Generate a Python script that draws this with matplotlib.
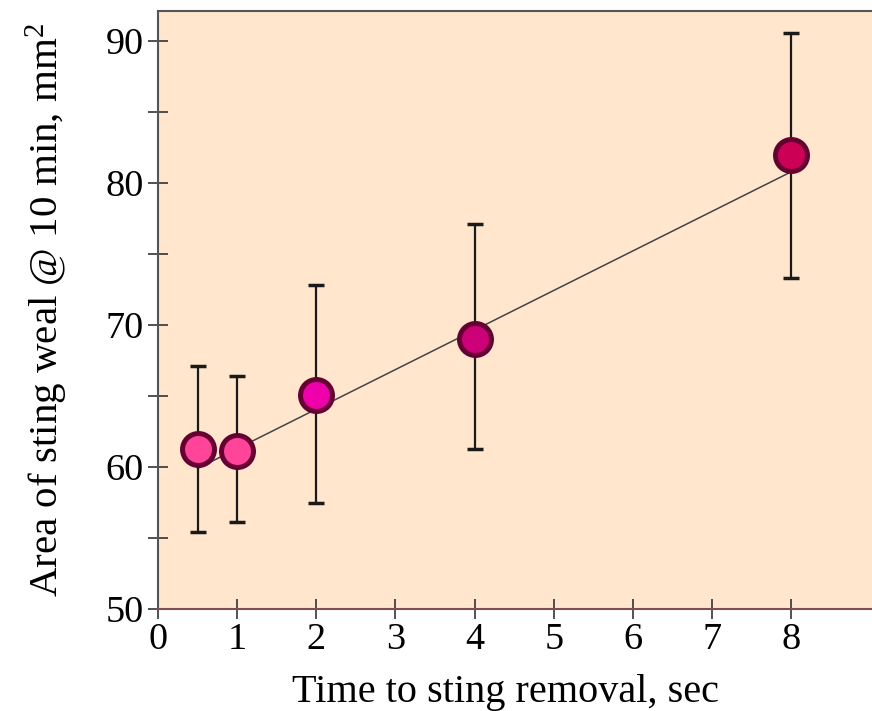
import matplotlib
matplotlib.use('Agg')
import matplotlib.pyplot as plt
from matplotlib.ticker import MultipleLocator

plt.rcParams['font.family'] = ['Liberation Serif', 'DejaVu Serif']
plt.rcParams['mathtext.fontset'] = 'custom'
plt.rcParams['mathtext.rm'] = 'Liberation Serif'
plt.rcParams['mathtext.it'] = 'Liberation Serif:italic'

# data
times = [0.5, 1, 2, 4, 8]
area = [61.3, 61.1, 65.1, 69.0, 82.0]
err_low = [55.4, 56.1, 57.45, 61.3, 73.3]
err_high = [67.1, 66.4, 72.8, 77.1, 90.6]
face_colors = ['#ff4499', '#ff4499', '#ee00aa', '#cc0077', '#cc0055']
trend_x = [0.5, 8]
trend_y = [59.9, 80.8]

fig = plt.figure(figsize=(8.72, 7.11), dpi=100)
ax = fig.add_axes([0.1812, 0.1435, 0.8188, 0.8405])
ax.set_facecolor('#ffe6cc')

# trend line
ax.plot(trend_x, trend_y, color='#444444', linewidth=1.1, zorder=2)

# error bars
yerr = [[a - lo for a, lo in zip(area, err_low)],
        [hi - a for a, hi in zip(area, err_high)]]
ax.errorbar(times, area, yerr=yerr, fmt='none', ecolor='#1a1a1a',
            elinewidth=1.6, capsize=5.5, capthick=2.5, zorder=3)

# points
for x, y, c in zip(times, area, face_colors):
    ax.plot(x, y, marker='o', markersize=23, markerfacecolor=c,
            markeredgecolor='#660033', markeredgewidth=3.6, zorder=4)

ax.set_xlim(0, 9.02)
ax.set_ylim(50, 92.1)
ax.set_xticks(range(0, 9))
ax.yaxis.set_major_locator(MultipleLocator(10))
ax.yaxis.set_minor_locator(MultipleLocator(5))
ax.tick_params(which='both', direction='inout', length=14, width=1.2,
               color='#333333', labelsize=27.5, pad=3)

for s in ax.spines.values():
    s.set_color('#555555')
    s.set_linewidth(1.5)
ax.spines['right'].set_visible(False)
ax.spines['bottom'].set_color('#805050')

ax.set_xlabel('Time to sting removal, sec', fontsize=29)
ax.xaxis.set_label_coords(0.486, -0.108, transform=ax.transAxes)
ax.set_ylabel(r'Area of sting weal @ 10 min, mm$^2$', fontsize=29.5, labelpad=26)

plt.savefig('out.png')
